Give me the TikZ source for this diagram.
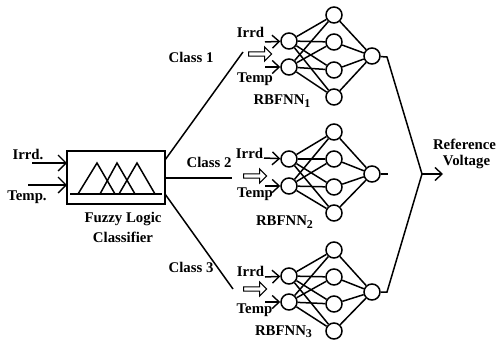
\documentclass[tikz,border=0pt]{standalone}
\usepackage{fontspec}
\setmainfont{Liberation Serif}
\usetikzlibrary{arrows.meta,shapes.arrows}
\newcommand{\sbs}[1]{\raisebox{-2.5pt}{\fontsize{12}{12}\selectfont #1}}
\tikzset{
  x=1pt,y=-1pt,
  line/.style={line width=1.5pt,black},
  neuron/.style={circle,draw,line width=1.5pt,minimum size=16pt,inner sep=0pt,fill=white},
  lab/.style={font=\fontsize{14.8}{16}\selectfont\bfseries,inner sep=0pt,anchor=center},
  barb/.style={-{Straight Barb[length=7pt,width=13pt,line width=1.4pt]}},
  barbbig/.style={-{Straight Barb[length=8pt,width=16pt,line width=1.4pt]}},
  blockarrow/.style={single arrow,draw,line width=1.1pt,fill=white,minimum width=14pt,minimum height=23pt,single arrow head extend=3.5pt,single arrow head indent=0pt,inner sep=1pt}
}
\begin{document}
\begin{tikzpicture}
\useasboundingbox (0,0) rectangle (496,340);
% classifier
\node[draw,line width=1.5pt,minimum width=98pt,minimum height=53pt,inner sep=0pt] (fz) at (116,177.5) {};
\coordinate (b0) at (70,194); \coordinate (b1) at (162,194);
\draw[line] (b0) -- (b1);
\coordinate (t1a) at (78,194); \coordinate (t1p) at (97,163); \coordinate (t1b) at (115,194);
\coordinate (t2a) at (100,194); \coordinate (t2p) at (117,163); \coordinate (t2b) at (135,194);
\coordinate (t3a) at (119,194); \coordinate (t3p) at (137,163); \coordinate (t3b) at (155,194);
\draw[line] (t1a) -- (t1p) -- (t1b);
\draw[line] (t2a) -- (t2p) -- (t2b);
\draw[line] (t3a) -- (t3p) -- (t3b);
\coordinate (inA) at (32,163); \coordinate (inAe) at (67,163);
\coordinate (inB) at (28,185); \coordinate (inBe) at (67,185);
\draw[line,barbbig] (inA) -- (inAe);
\draw[line,barbbig] (inB) -- (inBe);
\node[lab] (lIrrd) at (28,154) {Irrd.};
\node[lab] (lTemp) at (27,197) {Temp.};
\node[lab] (lF) at (123,219) {Fuzzy Logic};
\node[lab] (lC) at (123,237) {Classifier};
% class lines
\coordinate (c1s) at (165,160); \coordinate (c1e) at (243,52);
\coordinate (c2s) at (165,178); \coordinate (c2e) at (232,178);
\coordinate (c3s) at (165,194); \coordinate (c3e) at (233,289);
\draw[line] (c1s) -- (c1e);
\draw[line] (c2s) -- (c2e);
\draw[line] (c3s) -- (c3e);
\node[lab] (k1) at (191,57) {Class 1};
\node[lab] (k2) at (209,162) {Class 2};
\node[lab] (k3) at (191,267) {Class 3};
% networks
\foreach \n/\ia/\ib/\ha/\hb/\hc/\hd/\oy/\ax/\ay/\sx/\sa in
 {a/41/67/15/42/70/97/56/259/54/265/42,
  b/159/186/132/159/187/213/174/254/176/264/158,
  c/276/302/250/277/304/331/292/254/289/265/277}{
  \node[neuron] (\n i1) at (289,\ia) {};
  \node[neuron] (\n i2) at (289,\ib) {};
  \node[neuron] (\n h1) at (334,\ha) {};
  \node[neuron] (\n h2) at (334,\hb) {};
  \node[neuron] (\n h3) at (334,\hc) {};
  \node[neuron] (\n h4) at (334,\hd) {};
  \node[neuron] (\n o) at (372,\oy) {};
  \foreach \i in {1,2}\foreach \h in {1,2,3,4}
    \draw[line] (\n i\i) -- (\n h\h);
  \foreach \h in {1,2,3,4}
    \draw[line] (\n h\h) -- (\n o);
  \coordinate (\n s1) at (\sx,\sa);
  \coordinate (\n s2) at (265,\ib);
  \draw[line,barb] (\n s1) -- (\n i1);
  \draw[line,barb] (\n s2) -- (\n i2);
  \node[blockarrow] (\n ar) at (\ax,\ay) {};
}
\node[lab] (a1) at (250.5,32) {Irrd};
\node[lab] (a2) at (255,79) {Temp};
\node[lab] (a3) at (282,101) {RBFNN\sbs{1}};
\node[lab] (b1l) at (249.5,153) {Irrd};
\node[lab] (b2l) at (255,194) {Temp};
\node[lab] (b3l) at (284.5,222) {RBFNN\sbs{2}};
\node[lab] (c1l) at (250.5,271) {Irrd};
\node[lab] (c2l) at (254.5,310) {Temp};
\node[lab] (c3l) at (283.5,331.5) {RBFNN\sbs{3}};
% output merge
\coordinate (j) at (422,174);
\coordinate (e1) at (387,57);
\coordinate (e2) at (388,174);
\coordinate (e3) at (387,292);
\coordinate (rv) at (443,174);
\draw[line] (ao) -- (e1) -- (j);
\draw[line] (bo) -- (e2);
\draw[line] (co) -- (e3) -- (j);
\draw[line,barb] (j) -- (rv);
\node[lab] (r1) at (464.5,144) {Reference};
\node[lab] (r2) at (466.5,162) {Voltage};
\end{tikzpicture}
\end{document}
